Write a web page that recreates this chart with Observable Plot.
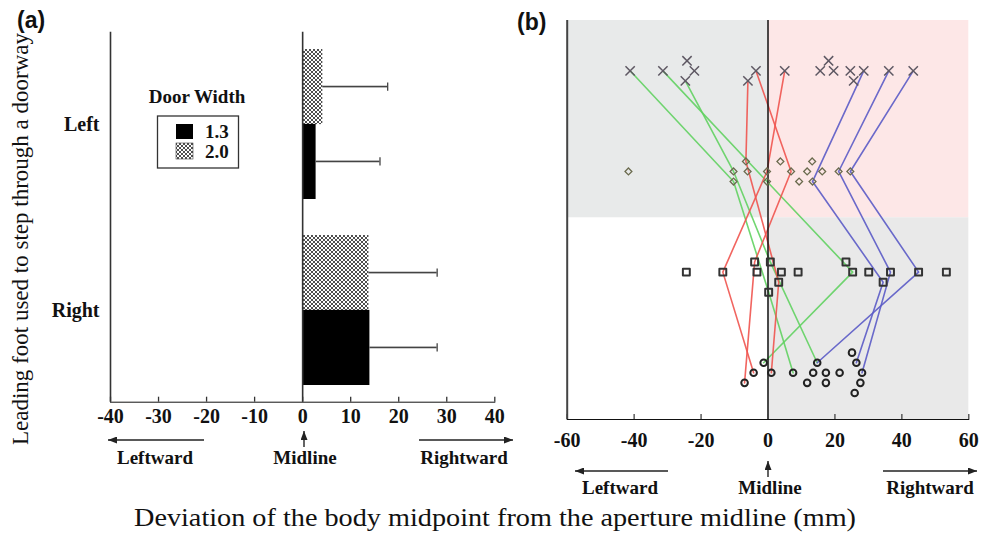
<!DOCTYPE html>
<html>
<head>
<meta charset="utf-8">
<script src="https://cdn.jsdelivr.net/npm/d3@7"></script>
<script src="https://cdn.jsdelivr.net/npm/@observablehq/plot@0.6"></script>
<style>
  html, body { margin: 0; padding: 0; background: #fff; }
  #root { position: relative; width: 984px; height: 541px; background: #fff; overflow: hidden; }
  #pa, #pb { position: absolute; top: 0; }
  #pa { left: 0; }
  #pb { left: 500px; }
  #overlay { position: absolute; left: 0; top: 0; pointer-events: none; }
</style>
</head>
<body>
<div id="root">
  <div id="pa"></div>
  <div id="pb"></div>
  <svg id="overlay" width="984" height="541" viewBox="0 0 984 541">
    <defs>
      <pattern id="hatch" patternUnits="userSpaceOnUse" width="4" height="4">
        <rect width="4" height="4" fill="#fff"/>
        <path d="M0,0 L4,4 M4,0 L0,4" stroke="#222" stroke-width="0.8"/>
      </pattern>
      <marker id="ah" viewBox="0 0 9 7" refX="9" refY="3.5" markerWidth="9" markerHeight="7" markerUnits="userSpaceOnUse" orient="auto">
        <path d="M0,0 L9,3.5 L0,7 z" fill="#222"/>
      </marker>
    </defs>
    <g font-family="'Liberation Sans', Arial, sans-serif" font-weight="bold" font-size="23" fill="#111">
      <text x="17" y="28">(a)</text>
      <text x="517" y="30">(b)</text>
    </g>
    <g font-family="'Liberation Serif', 'Times New Roman', serif" fill="#111">
      <text transform="translate(28,239) rotate(-90)" text-anchor="middle" font-size="23">Leading foot used to step through a doorway</text>
      <text x="134" y="526" font-size="26" textLength="722" lengthAdjust="spacingAndGlyphs">Deviation of the body midpoint from the aperture midline (mm)</text>
    </g>
    <g font-family="'Liberation Serif', 'Times New Roman', serif" font-weight="bold" font-size="19" fill="#111" text-anchor="middle">
      <text x="155" y="464">Leftward</text>
      <text x="305" y="464">Midline</text>
      <text x="464" y="464">Rightward</text>
      <text x="620" y="494">Leftward</text>
      <text x="770" y="494">Midline</text>
      <text x="930" y="494">Rightward</text>
      <text x="197" y="103">Door Width</text>
      <text x="205" y="138" text-anchor="start">1.3</text>
      <text x="205" y="158" text-anchor="start">2.0</text>
    </g>
    <g stroke="#222" stroke-width="1.4" fill="none">
      <line x1="204" y1="440" x2="108" y2="440" marker-end="url(#ah)"/>
      <line x1="304" y1="447" x2="304" y2="431" marker-end="url(#ah)"/>
      <line x1="419" y1="440" x2="513" y2="440" marker-end="url(#ah)"/>
      <line x1="668" y1="471" x2="575" y2="471" marker-end="url(#ah)"/>
      <line x1="768" y1="477" x2="768" y2="461" marker-end="url(#ah)"/>
      <line x1="883" y1="471" x2="977" y2="471" marker-end="url(#ah)"/>
    </g>
    <g>
      <rect x="157.5" y="116" width="81" height="52" fill="none" stroke="#333" stroke-width="1.3"/>
      <rect x="176" y="124" width="17" height="15" fill="#000"/>
      <rect x="176" y="143" width="17" height="16" fill="url(#hatch)" stroke="#444" stroke-width="0.6"/>
    </g>
  </svg>
</div>
<script>
// ---------- Panel (a) data ----------
const feet = ["Left", "Right"];
const mean13 = [2.8, 14.0];
const sd13 = [13.3, 14.0];
const mean20 = [4.2, 13.8];
const sd20 = [13.5, 14.2];
const ticksA = [-40, -30, -20, -10, 0, 10, 20, 30, 40];

// ---------- Panel (b) data ----------
// rows: cross (top) = 3, diamond = 2, square = 1, circle = 0; stack = small vertical offset index
const crossX     = [-41.2, -31.4, -24.2, -22.0, -24.7, -3.6, -6.0, 5.0, 15.6, 18.1, 19.6, 24.6, 25.6, 28.6, 36.1, 43.4];
const crossStack = [0, 0, 1, 0, -1, 0, -1, 0, 0, 1, 0, 0, -1, 0, 0, 0];
const diamondX     = [-41.7, -10.3, -10.3, -6.6, -6.1, -0.3, -0.3, 3.7, 6.9, 9.3, 11.7, 13.2, 13.3, 16.2, 21.1, 24.6];
const diamondStack = [0, 0, -1, 1, 0, 0, -1, 1, 0, -1, 0, 1, -1, 0, 0, 0];
const squareX     = [-24.4, -13.5, -4.0, -3.3, 0.7, 4.0, 3.2, 0.2, 9.0, 23.3, 25.3, 30.1, 36.6, 34.4, 45.0, 53.3];
const squareStack = [0, 0, 1, 0, 1, 0, -1, -2, 0, 1, 0, 0, 0, -1, 0, 0];
const circleX     = [-7.0, -4.3, -1.3, 1.0, 7.5, 11.7, 13.5, 14.7, 17.3, 17.3, 21.4, 25.1, 26.4, 28.1, 27.6, 25.9];
const circleStack = [-1, 0, 1, 0, 0, -1, 0, 1, 0, -1, 0, 2, 1, 0, -1, -2];
const ticksB = [-60, -40, -20, 0, 20, 40, 60];

// individual trajectories: x per row (cross, diamond, square, circle) and stack offsets
const trajGroup = ["green", "green", "green", "red", "red", "red", "blue", "blue", "blue"];
const trajX = [
  [-41.2, -10.3, 0.2, 7.5],
  [-31.4, -0.3, 25.3, -1.3],
  [-24.7, -10.3, 0.7, 14.7],
  [-6.0, -6.6, 3.2, 1.0],
  [-3.6, 6.9, -4.0, -7.0],
  [5.0, -0.3, -13.5, -4.3],
  [28.6, 13.3, 34.4, 26.4],
  [36.1, 21.1, 36.6, 28.1],
  [43.4, 24.6, 45.0, 14.7]
];
const trajStack = [
  [0, -1, -2, 0],
  [0, -1, 0, 1],
  [-1, 0, 1, 1],
  [-1, 1, -1, 0],
  [0, 0, 1, -1],
  [0, 0, 0, 0],
  [0, -1, -1, 1],
  [0, 0, 0, 0],
  [0, 0, 0, 1]
];
const rowLevels = [3, 2, 1, 0];
const stackStep = 0.1;
const yDomainB = [-0.464, 3.5];
const shadeBoundary = 1.54;
const groupColors = {green: "#62d162", red: "#f0544f", blue: "#5b5bc6"};

// ---------- Build panel (a) ----------
const serif = "'Liberation Serif', 'Times New Roman', serif";
const aTop = 31.7, aBottom = 38.3, aHeight = 440;
const innerA = aHeight - aTop - aBottom;
const padIn = 0.195, padOut = 0.092;
const step = innerA / (feet.length - padIn + 2 * padOut);
const band = step * (1 - padIn);
const half = band / 2;

const bars20 = feet.map((f, i) => ({foot: f, mean: mean20[i], end: mean20[i] + sd20[i]}));
const bars13 = feet.map((f, i) => ({foot: f, mean: mean13[i], end: mean13[i] + sd13[i]}));
const c20 = half / 2, c13 = half * 1.5;

const plotA = Plot.plot({
  width: 520, height: aHeight,
  marginLeft: 110, marginRight: 25.7, marginTop: aTop, marginBottom: aBottom,
  style: {fontFamily: serif, fontSize: "20px", fontWeight: "bold", background: "transparent", color: "#111", overflow: "visible"},
  x: {domain: [-40, 40], ticks: ticksA, tickSize: 0, tickPadding: 7, tickFormat: d => String(d), label: null, line: true},
  y: {domain: feet, paddingInner: padIn, paddingOuter: padOut, tickSize: 0, tickPadding: 11, label: null},
  marks: [
    Plot.barX(bars20, {x: "mean", y: "foot", fill: "url(#hatch)", insetBottom: half}),
    Plot.barX(bars13, {x: "mean", y: "foot", fill: "#000", insetTop: half}),
    Plot.barX(bars20, {x1: "mean", x2: "end", y: "foot", fill: "#444", insetTop: c20 - 0.7, insetBottom: band - c20 - 0.7}),
    Plot.barX(bars13, {x1: "mean", x2: "end", y: "foot", fill: "#444", insetTop: c13 - 0.7, insetBottom: band - c13 - 0.7}),
    Plot.tickX(bars20, {x: "end", y: "foot", stroke: "#444", strokeWidth: 1.3, insetTop: c20 - 4, insetBottom: band - c20 - 4}),
    Plot.tickX(bars13, {x: "end", y: "foot", stroke: "#444", strokeWidth: 1.3, insetTop: c13 - 4, insetBottom: band - c13 - 4}),
    Plot.ruleX([-40, 0], {stroke: "#333", strokeWidth: 1.6}),
    Plot.tickX(ticksA, {x: d => d, stroke: "#333", strokeWidth: 1.3, insetTop: innerA - 5})
  ]
});
document.getElementById("pa").appendChild(plotA);

// ---------- Build panel (b) ----------
const pts = [];
const addRow = (xs, st, level, kind) => xs.forEach((x, i) => pts.push({x, y: level + st[i] * stackStep, kind}));
addRow(crossX, crossStack, 3, "cross");
addRow(diamondX, diamondStack, 2, "diamond");
addRow(squareX, squareStack, 1, "square");
addRow(circleX, circleStack, 0, "circle");

const lineRows = [];
trajX.forEach((xs, p) => xs.forEach((x, r) => lineRows.push({
  id: p, x, y: rowLevels[r] + trajStack[p][r] * stackStep, color: groupColors[trajGroup[p]]
})));

const shade = [
  {x1: -60, x2: 0, y1: shadeBoundary, y2: yDomainB[1], fill: "#e8eaea"},
  {x1: 0, x2: 60, y1: shadeBoundary, y2: yDomainB[1], fill: "#fde7e7"},
  {x1: 0, x2: 60, y1: yDomainB[0], y2: shadeBoundary, fill: "#e9e9e9"}
];

const bTop = 20, bBottom = 31, bHeight = 450;
const innerB = bHeight - bTop - bBottom;
const plotB = Plot.plot({
  width: 484, height: bHeight,
  marginLeft: 66.7, marginRight: 15.7, marginTop: bTop, marginBottom: bBottom,
  style: {fontFamily: serif, fontSize: "20px", fontWeight: "bold", background: "transparent", color: "#111", overflow: "visible"},
  color: {type: "identity"},
  x: {domain: [-60, 60], ticks: ticksB, tickSize: 0, tickPadding: 13, tickFormat: d => String(d), label: null, line: true},
  y: {domain: yDomainB, axis: null},
  marks: [
    Plot.rect(shade, {x1: "x1", x2: "x2", y1: "y1", y2: "y2", fill: "fill"}),
    Plot.line(lineRows, {x: "x", y: "y", z: "id", stroke: "color", strokeWidth: 1.6, strokeOpacity: 0.9}),
    Plot.ruleX([0], {stroke: "#111", strokeWidth: 1.5}),
    Plot.ruleX([-60], {stroke: "#444", strokeWidth: 2}),
    Plot.tickX(ticksB, {x: d => d, stroke: "#444", strokeWidth: 1.3, insetTop: innerB - 5}),
    Plot.dot(pts.filter(d => d.kind === "cross"), {x: "x", y: "y", symbol: "times", r: 4.3, stroke: "#5e5863", strokeWidth: 1.5, fill: "none"}),
    Plot.dot(pts.filter(d => d.kind === "diamond"), {x: "x", y: "y", symbol: "diamond2", r: 3.1, stroke: "#6b6b4e", strokeWidth: 1.3, fill: "none"}),
    Plot.dot(pts.filter(d => d.kind === "square"), {x: "x", y: "y", symbol: "square", r: 3.9, stroke: "#333", strokeWidth: 2, fill: "none", strokeLinejoin: "round"}),
    Plot.dot(pts.filter(d => d.kind === "circle"), {x: "x", y: "y", symbol: "circle", r: 3.3, stroke: "#222", strokeWidth: 2, fill: "none"})
  ]
});
document.getElementById("pb").appendChild(plotB);
</script>
</body>
</html>
